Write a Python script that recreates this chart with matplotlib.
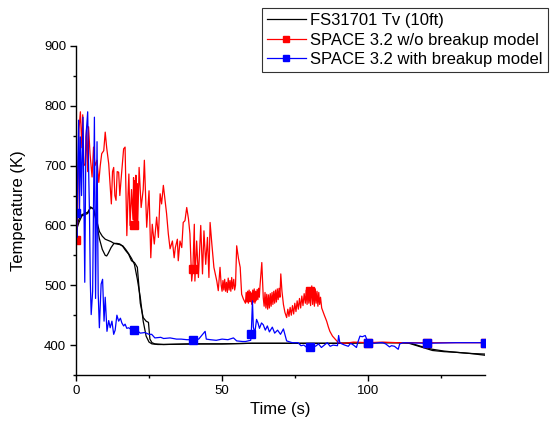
import numpy as np
import matplotlib
matplotlib.use("Agg")
import matplotlib.pyplot as plt
from matplotlib.ticker import MultipleLocator

plt.rcParams['font.family'] = ['Liberation Sans', 'DejaVu Sans']

# ---- Data ----
exp_a_t = [0, 1, 2, 3, 4, 5, 6, 7, 8, 9, 10, 10.5, 11, 12, 13, 14, 15, 16, 17, 18, 19, 20, 21,
           22, 23, 24, 24.8, 25.3, 26, 27, 30, 40, 50, 60, 70, 80, 90, 100, 110, 114, 118,
           122, 126, 130, 135, 140]
exp_a_T = [590, 605, 616, 618, 620, 631, 627, 605, 578, 560, 550, 549, 553, 563, 570, 570, 569,
           565, 558, 552, 541, 538, 530, 470, 446, 440, 438, 410, 404, 402, 401, 402, 402, 403,
           403, 403, 403, 404, 404, 403, 397, 391, 389, 388, 386, 383]
exp_b_t = [0, 1, 2, 3, 4, 5, 6, 7, 8, 9, 10, 11, 12, 13, 14, 15, 16, 17, 18, 19, 20, 21, 22,
           23, 24, 25, 26, 28, 30, 40, 50, 60, 70, 80, 90, 100, 110, 114, 118, 122, 126, 130,
           135, 140]
exp_b_T = [595, 610, 618, 620, 622, 630, 628, 610, 590, 582, 577, 575, 573, 570, 569, 568, 566,
           560, 553, 545, 535, 510, 480, 440, 415, 405, 402, 401, 401, 402, 402, 403, 403, 403,
           403, 404, 404, 404, 398, 393, 390, 388, 386, 385]

nob_t = [0, 0.5, 1.0, 1.5, 2.0, 2.3, 2.7, 3.2, 3.6, 4.0, 4.3, 4.8, 5.5, 6.0, 6.5, 7.2, 7.8, 8.3,
         8.8, 9.5, 10.0, 10.5, 11.2, 12.1, 12.5, 12.9, 13.3, 13.7, 14.1, 14.6, 15.0, 15.5, 16.3,
         16.8, 17.4, 17.8, 18.1, 18.5, 19.0,
         19.5, 19.7, 19.9, 20.0, 20.1, 20.3, 20.5, 20.7, 20.9, 21.1,
         21.6, 22.3, 23.0, 23.4, 24.2, 25.0, 25.6, 26.1, 26.8, 27.6, 28.2, 28.8, 29.3, 29.9,
         30.5, 31.0, 31.6, 32.2, 33.0, 33.6, 34.0, 34.7, 35.0, 35.6, 36.2, 36.7, 37.3, 37.9,
         38.5, 39.0, 39.6, 40.0, 40.5, 40.7, 41.3, 41.9, 42.7, 43.3, 43.8, 44.4, 45.0, 45.5,
         45.9, 46.5, 47.2, 48.2, 48.7, 49.3, 49.7,
         50.0, 50.3, 50.6, 50.9, 51.2, 51.5, 51.8, 52.1, 52.4, 52.7, 53.0, 53.3, 53.6, 54.0,
         54.3, 54.6, 55.0, 55.6, 56.2, 56.7, 57.3,
         58.0, 58.25, 58.5, 58.75, 59.0, 59.25, 59.5, 59.75, 60.0, 60.25, 60.5, 60.75, 61.0,
         61.25, 61.5, 61.75, 62.0, 62.25, 62.5, 62.75, 63.0, 63.6,
         64.1, 64.4, 64.7, 65.0, 65.3, 65.6, 65.9, 66.2, 66.5, 66.8, 67.1, 67.4, 67.7, 68.0,
         68.3, 68.6, 68.9, 69.2, 69.5, 69.8, 70.1, 70.5, 71.0, 71.5,
         72.1, 72.5, 72.9, 73.3, 73.7, 74.1, 74.5, 74.9, 75.3, 75.7, 76.1, 76.5, 76.9, 77.3,
         77.7, 78.1, 78.5, 78.8, 79.1, 79.4, 79.7, 80.0, 80.3, 80.7, 81.0, 81.3, 81.6, 81.9,
         82.2, 82.5, 82.8, 83.1, 83.4, 83.7, 84.1, 85.0, 85.8, 86.4, 86.9, 87.8, 88.7, 89.8,
         92, 95, 100, 105, 110, 115, 120, 130, 140]
nob_T = [575, 600, 760, 790, 730, 785, 700, 703, 760, 690, 765, 720, 681, 731, 700, 709, 672,
         700, 720, 725, 756, 730, 703, 636, 690, 697, 650, 642, 690, 689, 650, 681, 728, 731,
         583, 650, 686, 600, 660,
         610, 680, 605, 600, 675, 600, 684, 605, 670, 597,
         697, 630, 660, 709, 597, 658, 546, 602, 569, 614, 580, 653, 636, 667,
         642, 620, 586, 561, 574, 546, 563, 577, 541, 574, 563, 605, 608, 630,
         611, 586, 507, 527, 602, 507, 574, 513, 600, 519, 591, 535, 580, 513,
         605, 569, 530, 507, 491, 530, 500,
         490, 508, 492, 510, 490, 505, 488, 512, 492, 508, 490, 513, 494, 510,
         492, 500, 566, 545, 530, 485, 477,
         470, 488, 472, 490, 470, 492, 474, 489, 480, 468, 492, 472, 494,
         470, 490, 475, 493, 476, 495, 480, 500, 538,
         479, 465, 488, 462, 485, 460, 484, 462, 486, 465, 488, 468, 490, 470,
         492, 472, 494, 476, 495, 480, 519, 490, 468, 455,
         446, 460, 448, 463, 450, 466, 452, 470, 456, 474, 460, 478, 462, 482,
         466, 486, 470, 492, 468, 496, 470, 490, 466, 499, 468, 495, 465, 494,
         470, 490, 465, 488, 468, 480, 462, 450, 440, 430, 423, 415, 410, 404,
         403, 405, 404, 405, 404, 404, 404, 404, 404]

brk_t = [0, 0.3, 0.6, 0.9, 1.2, 1.5, 1.9, 2.4, 3.0, 3.4, 4.0, 4.3, 4.6, 4.9, 5.2, 5.7, 6.3,
         6.7, 7.2, 7.6, 8.0, 8.6, 9.1, 9.6, 10.0, 10.6, 11.2, 11.7, 12.3, 12.9, 13.4, 14.0,
         14.6, 15.2, 15.7, 16.3, 16.8, 17.4, 18.0, 18.9, 20.0, 21, 22, 23.6, 25.0, 25.9, 27,
         29, 30, 32.2, 34.4, 36, 38, 40, 42, 44.2, 44.6, 46, 48, 50, 52, 53.9, 55, 57, 58,
         59.8, 60.0, 60.4, 60.7, 61.2, 61.8, 62.3, 62.8, 63.5, 64.1, 64.8, 65.5, 66.2, 67.2,
         68.0, 69.0, 70.0, 71.0, 72.1, 74, 76, 77, 78, 79, 80, 81, 82, 83, 84, 85, 86, 87, 88,
         89.5, 89.9, 90.3, 91, 92, 93.2, 94, 95, 96.0, 96.5, 97.2, 98, 99, 100, 101, 102, 104,
         105, 106, 107.3, 108, 109, 110.3, 110.8, 112, 120, 130, 140]
brk_T = [620, 580, 700, 776, 625, 748, 650, 781, 505, 748, 790, 700, 625, 505, 451, 490, 781,
         478, 740, 486, 429, 502, 510, 440, 480, 423, 441, 429, 440, 418, 425, 450, 440, 445,
         437, 432, 435, 428, 429, 426, 425, 424, 420, 421, 418, 418, 412, 413, 411, 412, 410,
         410, 409, 409, 410, 423, 410, 409, 408, 410, 409, 412, 407, 406, 406, 408, 419, 474,
         430, 420, 443, 437, 428, 437, 434, 425, 432, 422, 430, 420, 425, 418, 427, 407, 404,
         404, 399, 400, 396, 397, 400, 398, 402, 396, 400, 404, 398, 400, 399, 416, 404, 402,
         400, 398, 403, 400, 396, 405, 415, 414, 416, 404, 405, 403, 404, 404, 402, 397, 399,
         398, 393, 402, 404, 403, 404, 404]

x_ticks = [0, 50, 100]
y_ticks = [400, 500, 600, 700, 800, 900]
marker_times = [0, 20, 40, 60, 80, 100, 120, 140]

# ---- Figure ----
W, H = 550, 428
fig = plt.figure(figsize=(W / 100, H / 100), dpi=100)
ax = fig.add_axes([76 / W, (H - 375) / H, (485 - 76) / W, (375 - 46) / H])

def mark_idx(times):
    return [i for i, t in enumerate(times) if t in marker_times]

l1, = ax.plot(exp_a_t, exp_a_T, color='black', lw=0.9, label='FS31701 Tv (10ft)')
ax.plot(exp_b_t, exp_b_T, color='black', lw=0.9)
l2, = ax.plot(nob_t, nob_T, color='#ff0000', lw=0.9, marker='s', ms=6,
              markevery=mark_idx(nob_t), label='SPACE 3.2 w/o breakup model')
l3, = ax.plot(brk_t, brk_T, color='#0000ff', lw=0.9, marker='s', ms=6,
              markevery=mark_idx(brk_t), label='SPACE 3.2 with breakup model')

ax.set_xlim(0, 140)
ax.set_ylim(350, 900)
ax.set_xticks(x_ticks)
ax.set_yticks(y_ticks)
ax.xaxis.set_minor_locator(MultipleLocator(25))
ax.yaxis.set_minor_locator(MultipleLocator(50))
ax.tick_params(which='major', direction='out', length=4, width=1, labelsize=9.5, pad=3)
ax.tick_params(which='minor', direction='out', length=2.5, width=1)
for s in ['top', 'right']:
    ax.spines[s].set_visible(False)
for s in ['left', 'bottom']:
    ax.spines[s].set_linewidth(1.0)
ax.set_xlabel('Time (s)', fontsize=12, labelpad=4)
ax.set_ylabel('Temperature (K)', fontsize=12, labelpad=13)

leg = fig.legend(handles=[l1, l2, l3], loc='upper right',
                 bbox_to_anchor=(548 / W, 1 - 8 / H), fontsize=12,
                 frameon=True, fancybox=False, borderaxespad=0,
                 handlelength=2.3, handletextpad=0.3, borderpad=0.3,
                 labelspacing=0.27, markerscale=0.8)
leg.get_frame().set_edgecolor('black')
leg.get_frame().set_linewidth(0.8)

fig.savefig('out.png', dpi=100)
